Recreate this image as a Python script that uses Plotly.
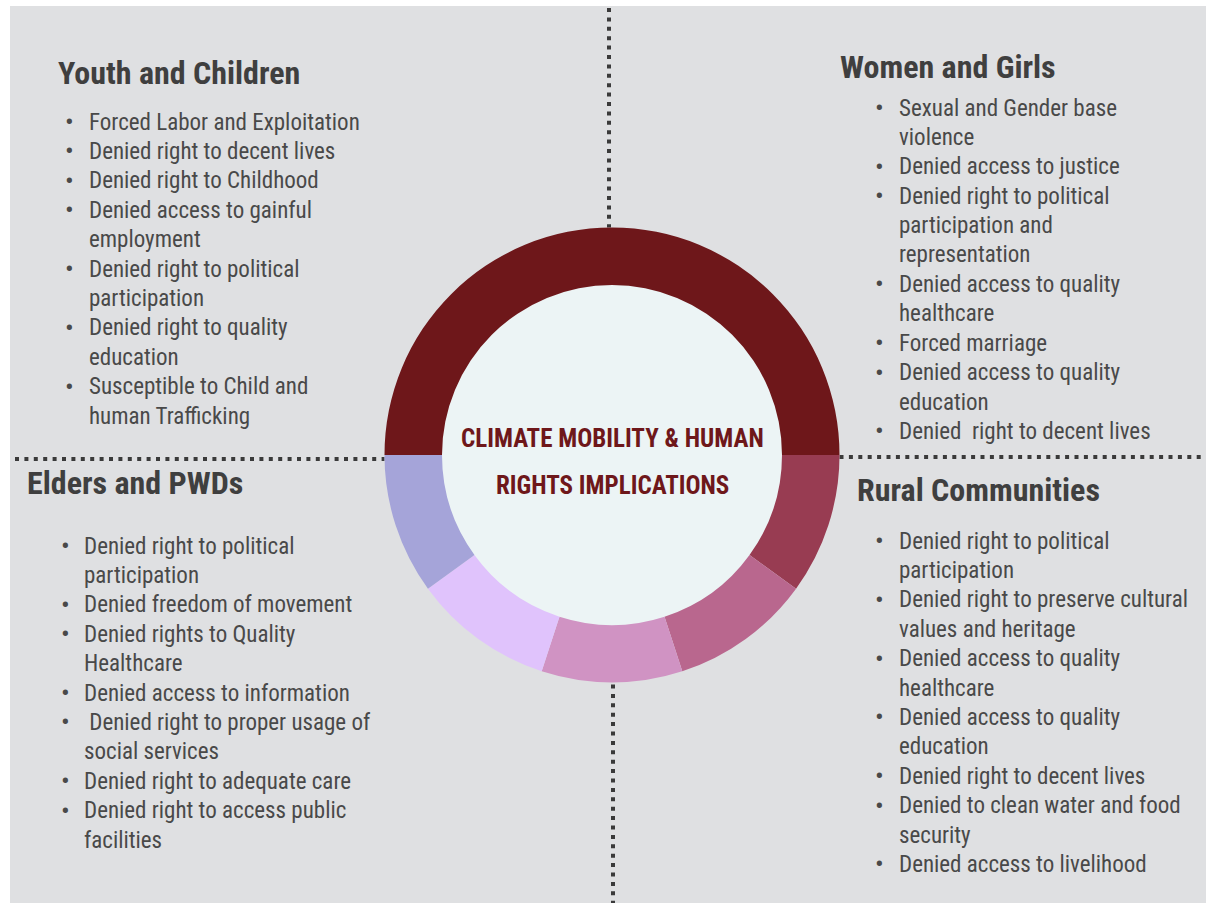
import plotly.graph_objects as go

W, H = 1206, 903

# ---------------- data ----------------
ring_labels = ["Top", "Seg1", "Seg2", "Seg3", "Seg4", "Seg5"]
ring_values = [5, 1, 1, 1, 1, 1]
ring_colors = ["#6e171a", "#983c52", "#b9678e", "#d093c3", "#e0c3fc", "#a5a4d9"]

center_title = ["CLIMATE MOBILITY & HUMAN", "RIGHTS IMPLICATIONS"]

youth_title = "Youth and Children"
youth_items = [
    ["Forced Labor and Exploitation"],
    ["Denied right to decent lives"],
    ["Denied right to Childhood"],
    ["Denied access to gainful", "employment"],
    ["Denied right to political", "participation"],
    ["Denied right to quality", "education"],
    ["Susceptible to Child and", "human Trafficking"],
]

women_title = "Women and Girls"
women_items = [
    ["Sexual and Gender base", "violence"],
    ["Denied access to justice"],
    ["Denied right to political", "participation and", "representation"],
    ["Denied access to quality", "healthcare"],
    ["Forced marriage"],
    ["Denied access to quality", "education"],
    ["Denied  right to decent lives"],
]

elders_title = "Elders and PWDs"
elders_items = [
    ["Denied right to political", "participation"],
    ["Denied freedom of movement"],
    ["Denied rights to Quality", "Healthcare"],
    ["Denied access to information"],
    [" Denied right to proper usage of", "social services"],
    ["Denied right to adequate care"],
    ["Denied right to access public", "facilities"],
]

rural_title = "Rural Communities"
rural_items = [
    ["Denied right to political", "participation"],
    ["Denied right to preserve cultural", "values and heritage"],
    ["Denied access to quality", "healthcare"],
    ["Denied access to quality", "education"],
    ["Denied right to decent lives"],
    ["Denied to clean water and food", "security"],
    ["Denied access to livelihood"],
]

# ---------------- layout helpers ----------------
def px(x):
    return x / W

def py(y):
    return 1 - y / H

BODY_FONT = "Roboto Condensed, Liberation Sans Narrow, DejaVu Sans Condensed, sans-serif"
TITLE_COLOR = "#3f3f3f"
BODY_COLOR = "#494949"
DOT_COLOR = "#3a3a3a"

annotations = []

def fmt(line):
    out = line.replace("  ", "&nbsp; ")
    if out.startswith(" "):
        out = "&nbsp;" + out[1:]
    return out

def add_block(title, items, hx, hy, bx, tx, y0, step):
    annotations.append(dict(
        x=px(hx), y=py(hy), xref="paper", yref="paper", xanchor="left", yanchor="middle",
        text="<b>" + title + "</b>", showarrow=False,
        font=dict(family=BODY_FONT, size=32, color=TITLE_COLOR)))
    i = 0
    for item in items:
        annotations.append(dict(
            x=px(bx), y=py(y0 + i * step), xref="paper", yref="paper",
            xanchor="center", yanchor="middle", text="•", showarrow=False,
            font=dict(family=BODY_FONT, size=26, color=BODY_COLOR)))
        for line in item:
            annotations.append(dict(
                x=px(tx), y=py(y0 + i * step), xref="paper", yref="paper",
                xanchor="left", yanchor="middle", text=fmt(line),
                showarrow=False,
                font=dict(family=BODY_FONT, size=23, color=BODY_COLOR)))
            i += 1

STEP = 29.4
add_block(youth_title, youth_items, 56, 73, 69, 87, 122, STEP)
add_block(women_title, women_items, 838, 67, 879, 897, 108, STEP)
add_block(elders_title, elders_items, 25, 483, 65, 82, 546, STEP)
add_block(rural_title, rural_items, 855, 490, 879, 897, 541, STEP)

# center title
CX, CY, R_OUT, R_IN = 612, 455, 227.5, 170
for j, line in enumerate(center_title):
    annotations.append(dict(
        x=px(CX), y=py(438 + j * 47), xref="paper", yref="paper",
        xanchor="center", yanchor="middle", text="<b>" + line + "</b>", showarrow=False,
        font=dict(family="Roboto Condensed, DejaVu Sans Condensed, sans-serif", size=25, color="#6e171a")))

shapes = [
    dict(type="rect", xref="paper", yref="paper", x0=px(10), x1=px(W), y0=py(6), y1=py(H),
         fillcolor="#dfe0e2", line=dict(width=0), layer="below"),
    dict(type="circle", xref="paper", yref="paper", x0=px(CX - R_IN - 2), x1=px(CX + R_IN + 2),
         y0=py(CY - R_IN - 2), y1=py(CY + R_IN + 2), fillcolor="#ecf4f5", line=dict(width=0), layer="below"),
]
dotline = dict(color=DOT_COLOR, width=4, dash="4px,5.4px")
for (x0, y0, x1, y1) in [(609, 8, 609, CY - R_OUT), (613, CY + R_OUT + 2, 613, H),
                         (15, 459, CX - R_OUT, 459), (CX + R_OUT, 457, W, 457)]:
    shapes.append(dict(type="line", xref="paper", yref="paper", x0=px(x0), x1=px(x1),
                       y0=py(y0), y1=py(y1), line=dotline, layer="below"))

fig = go.Figure(go.Pie(
    labels=ring_labels, values=ring_values, sort=False, direction="clockwise", rotation=270,
    hole=R_IN / R_OUT, marker=dict(colors=ring_colors, line=dict(width=0)),
    textinfo="none", hoverinfo="skip", showlegend=False,
    domain=dict(x=[px(CX - R_OUT), px(CX + R_OUT)], y=[py(CY + R_OUT), py(CY - R_OUT)]),
))

fig.update_layout(
    width=W, height=H, margin=dict(l=0, r=0, t=0, b=0),
    paper_bgcolor="white", plot_bgcolor="white",
    shapes=shapes, annotations=annotations, showlegend=False,
)

fig.write_html(
    "out.html",
    config={"displayModeBar": False},
    post_script="document.body.style.margin='0';document.body.style.overflow='hidden';",
)
